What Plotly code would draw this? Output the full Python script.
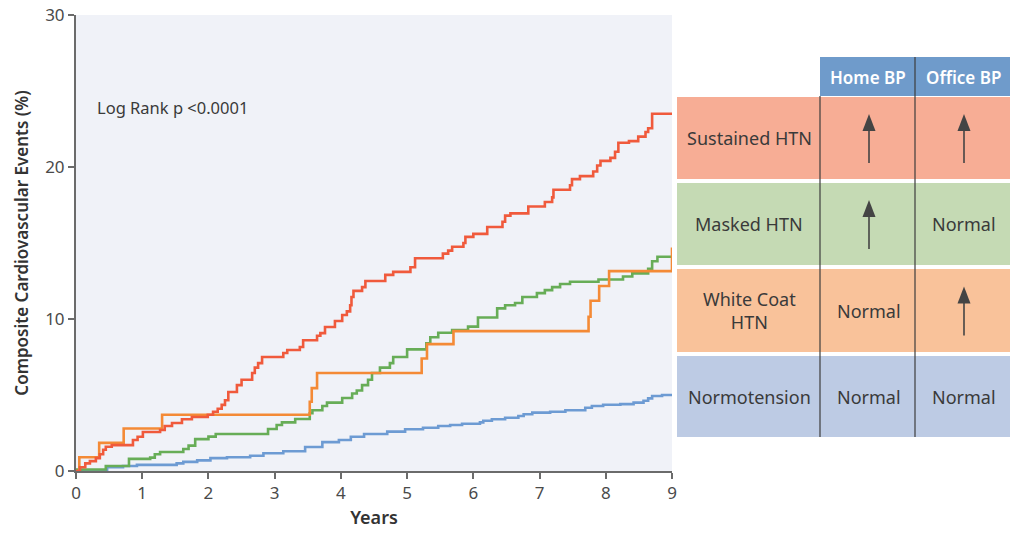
import plotly.graph_objects as go

# ---------------- data ----------------
sustained_t = [0.00, 0.06, 0.14, 0.21, 0.30, 0.36, 0.41, 0.45, 0.54, 0.86,
               0.93, 1.01, 1.27, 1.34, 1.45, 1.60, 1.75, 1.99, 2.07, 2.14,
               2.20, 2.25, 2.30, 2.43, 2.50, 2.66, 2.70, 2.75, 2.81, 3.13,
               3.19, 3.38, 3.43, 3.64, 3.69, 3.76, 3.91, 4.02, 4.09, 4.14,
               4.16, 4.19, 4.32, 4.37, 4.67, 4.79, 5.05, 5.12, 5.54, 5.62,
               5.68, 5.85, 5.88, 6.00, 6.21, 6.44, 6.48, 6.56, 6.83, 7.08,
               7.19, 7.21, 7.46, 7.49, 7.61, 7.81, 7.87, 7.92, 8.07, 8.14,
               8.19, 8.35, 8.49, 8.60, 8.64, 8.70, 9.00]
sustained_v = [0, 0.25, 0.5, 0.65, 0.85, 1.1, 1.4, 1.6, 1.7, 2.04,
               2.25, 2.57, 2.7, 2.96, 3.16, 3.4, 3.55, 3.7, 3.9, 4.1,
               4.35, 4.65, 5.2, 5.65, 6.0, 6.45, 6.8, 7.1, 7.5, 7.76,
               7.96, 8.16, 8.6, 8.9, 9.07, 9.47, 9.87, 10.26, 10.5, 10.9,
               11.45, 11.85, 12.1, 12.5, 12.9, 13.1, 13.4, 14.0, 14.3, 14.5,
               14.75, 15.0, 15.4, 15.6, 16.05, 16.4, 16.8, 16.95, 17.4, 17.7,
               18.0, 18.5, 18.8, 19.2, 19.4, 19.7, 20.1, 20.4, 20.6, 21.0,
               21.6, 21.7, 22.0, 22.3, 22.55, 23.5, 23.5]

masked_t = [0.00, 0.45, 0.80, 1.12, 1.19, 1.27, 1.62, 1.70, 1.80, 2.00,
            2.11, 2.90, 3.03, 3.11, 3.31, 3.53, 3.57, 3.72, 3.79, 4.02,
            4.17, 4.24, 4.32, 4.41, 4.47, 4.59, 4.74, 4.79, 5.00, 5.29,
            5.35, 5.47, 5.68, 5.92, 6.07, 6.36, 6.48, 6.63, 6.74, 6.96,
            7.08, 7.19, 7.31, 7.46, 7.89, 8.26, 8.40, 8.64, 8.70, 8.78,
            9.00]
masked_v = [0.1, 0.33, 0.8, 0.88, 1.1, 1.25, 1.45, 1.67, 2.1, 2.26,
            2.43, 2.76, 3.03, 3.2, 3.42, 3.8, 4.0, 4.28, 4.5, 4.8,
            5.1, 5.3, 5.65, 6.0, 6.45, 6.8, 7.1, 7.5, 8.0, 8.4,
            8.8, 9.1, 9.27, 9.5, 10.1, 10.7, 10.9, 11.05, 11.45, 11.7,
            11.9, 12.1, 12.3, 12.45, 12.6, 12.8, 13.0, 13.3, 13.8, 14.1,
            14.1]

whitecoat_t = [0.00, 0.05, 0.35, 0.72, 1.30, 3.53, 3.56, 3.64, 5.22, 5.30,
               5.70, 7.74, 7.77, 7.90, 8.05, 9.00, 9.00]
whitecoat_v = [0, 0.9, 1.85, 2.8, 3.7, 4.56, 5.45, 6.45, 7.4, 8.35,
               9.2, 10.15, 11.2, 12.17, 13.15, 13.15, 14.7]

normo_t = [0.00, 0.47, 0.71, 0.92, 1.52, 1.62, 1.83, 2.03, 2.28, 2.63,
           2.83, 3.13, 3.46, 3.72, 3.97, 4.15, 4.35, 4.70, 4.97, 5.24,
           5.47, 5.65, 5.83, 6.10, 6.15, 6.28, 6.48, 6.68, 6.76, 6.89,
           7.16, 7.39, 7.69, 7.79, 7.96, 8.22, 8.42, 8.57, 8.64, 8.70,
           8.85, 9.00]
normo_v = [0.05, 0.25, 0.33, 0.4, 0.5, 0.6, 0.7, 0.85, 0.9, 1.0,
           1.17, 1.3, 1.58, 1.9, 2.04, 2.25, 2.43, 2.59, 2.75, 2.85,
           2.96, 3.03, 3.11, 3.2, 3.31, 3.4, 3.5, 3.62, 3.73, 3.84,
           3.9, 4.0, 4.16, 4.28, 4.36, 4.4, 4.5, 4.62, 4.78, 4.93,
           5.0, 5.0]

x_ticks = [0, 1, 2, 3, 4, 5, 6, 7, 8, 9]
y_ticks = [0, 10, 20, 30]

row_labels = ["Sustained HTN", "Masked HTN", "White Coat<br>HTN", "Normotension"]
col_labels = ["Home BP", "Office BP"]
home_status = ["up", "up", "Normal", "Normal"]
office_status = ["up", "Normal", "up", "Normal"]

# ---------------- styles ----------------
FONT = "Noto Sans"
TXT = "#3a3a3a"
AX = "#6b6b6b"
series = [
    (normo_t, normo_v, "#6d9bd3", "Normotension"),
    (masked_t, masked_v, "#67ad57", "Masked HTN"),
    (whitecoat_t, whitecoat_v, "#f48a36", "White Coat HTN"),
    (sustained_t, sustained_v, "#f05a3c", "Sustained HTN"),
]
row_fill = ["#f7ad95", "#c5dab4", "#f9c29a", "#bdcbe4"]
row_box = [(97, 179), (183, 265), (269, 352), (356, 437)]

# plot-area pixel geometry (for layout of the side table)
L, R, T, B = 76, 672, 15, 471
W, H = 1010, 533


def px(x):
    return (x - L) / (R - L)


def py(y):
    return (B - y) / (B - T)


fig = go.Figure()
for t, v, c, name in series:
    fig.add_trace(go.Scatter(x=t, y=v, mode="lines", line=dict(color=c, width=2.6, shape="hv"),
                             name=name, showlegend=False, hoverinfo="skip"))

shapes = []
annots = []

# row backgrounds
for (y0, y1), col in zip(row_box, row_fill):
    shapes.append(dict(type="rect", xref="paper", yref="paper", x0=px(677), x1=px(1010),
                       y0=py(y1), y1=py(y0), fillcolor=col, line=dict(width=0), layer="above"))
# header
shapes.append(dict(type="rect", xref="paper", yref="paper", x0=px(820), x1=px(1010),
                   y0=py(96), y1=py(57), fillcolor="#6f9bcb", line=dict(width=0), layer="above"))
# divider lines
shapes.append(dict(type="line", xref="paper", yref="paper", x0=px(820), x1=px(820),
                   y0=py(437), y1=py(96), line=dict(color="#3d3d3d", width=1.2), layer="above"))
shapes.append(dict(type="line", xref="paper", yref="paper", x0=px(915), x1=px(915),
                   y0=py(437), y1=py(57), line=dict(color="#3d3d3d", width=1.2), layer="above"))

col_x = [869, 964]
for c_lab, cx in zip(col_labels, col_x):
    annots.append(dict(xref="paper", yref="paper", x=px(cx - 1), y=py(77), text=c_lab, showarrow=False,
                       font=dict(family=FONT, size=17, color="white", weight=600),
                       xanchor="center", yanchor="middle"))

for i, lab in enumerate(row_labels):
    y0, y1 = row_box[i]
    yc = (y0 + y1) / 2
    annots.append(dict(xref="paper", yref="paper", x=px(749), y=py(yc), text=lab, showarrow=False,
                       font=dict(family=FONT, size=18, color=TXT), xanchor="center", yanchor="middle"))
    for status, cx in zip((home_status[i], office_status[i]), col_x):
        if status == "up":
            top = yc - 24
            bot = yc + 25
            shapes.append(dict(type="line", xref="paper", yref="paper", x0=px(cx), x1=px(cx),
                               y0=py(bot), y1=py(top + 14), line=dict(color="#444444", width=1.6),
                               layer="above"))
            path = "M {} {} L {} {} L {} {} Z".format(px(cx), py(top), px(cx - 6.5), py(top + 17),
                                                      px(cx + 6.5), py(top + 17))
            shapes.append(dict(type="path", xref="paper", yref="paper", path=path,
                               fillcolor="#444444", line=dict(width=0), layer="above"))
        else:
            annots.append(dict(xref="paper", yref="paper", x=px(cx), y=py(yc), text=status,
                               showarrow=False, font=dict(family=FONT, size=18, color=TXT),
                               xanchor="center", yanchor="middle"))

annots.append(dict(xref="x", yref="y", x=0.28, y=23.9, text="Log Rank p <0.0001", showarrow=False,
                   font=dict(family=FONT, size=16.5, color=TXT), xanchor="left", yanchor="middle"))

fig.update_layout(
    width=W, height=H,
    margin=dict(l=L, r=W - R, t=T, b=H - B, autoexpand=False),
    paper_bgcolor="white",
    plot_bgcolor="#f0f2f8",
    shapes=shapes,
    annotations=annots,
    showlegend=False,
    xaxis=dict(range=[0, 9], tickvals=x_ticks, ticktext=[str(v) for v in x_ticks],
               automargin=False,
               showgrid=False, zeroline=False, showline=True, linecolor=AX, linewidth=2,
               ticks="outside", ticklen=6, tickwidth=1.5, tickcolor=AX,
               tickfont=dict(family=FONT, size=17, color="#4a4a4a"),
               title=dict(text="Years", font=dict(family=FONT, size=18, color="#333333", weight=600),
                          standoff=8)),
    yaxis=dict(range=[0, 30], tickvals=y_ticks, ticktext=[str(v) for v in y_ticks],
               automargin=False,
               showgrid=False, zeroline=False, showline=True, linecolor=AX, linewidth=2,
               ticks="outside", ticklen=6, tickwidth=1.5, tickcolor=AX,
               tickfont=dict(family=FONT, size=17, color="#4a4a4a"),
               title=dict(text="Composite Cardiovascular Events (%)",
                          font=dict(family=FONT, size=17, color="#333333", weight=600),
                          standoff=12)),
)

fig.write_html("out.html", config={"displayModeBar": False},
               post_script="document.body.style.margin='0';")
